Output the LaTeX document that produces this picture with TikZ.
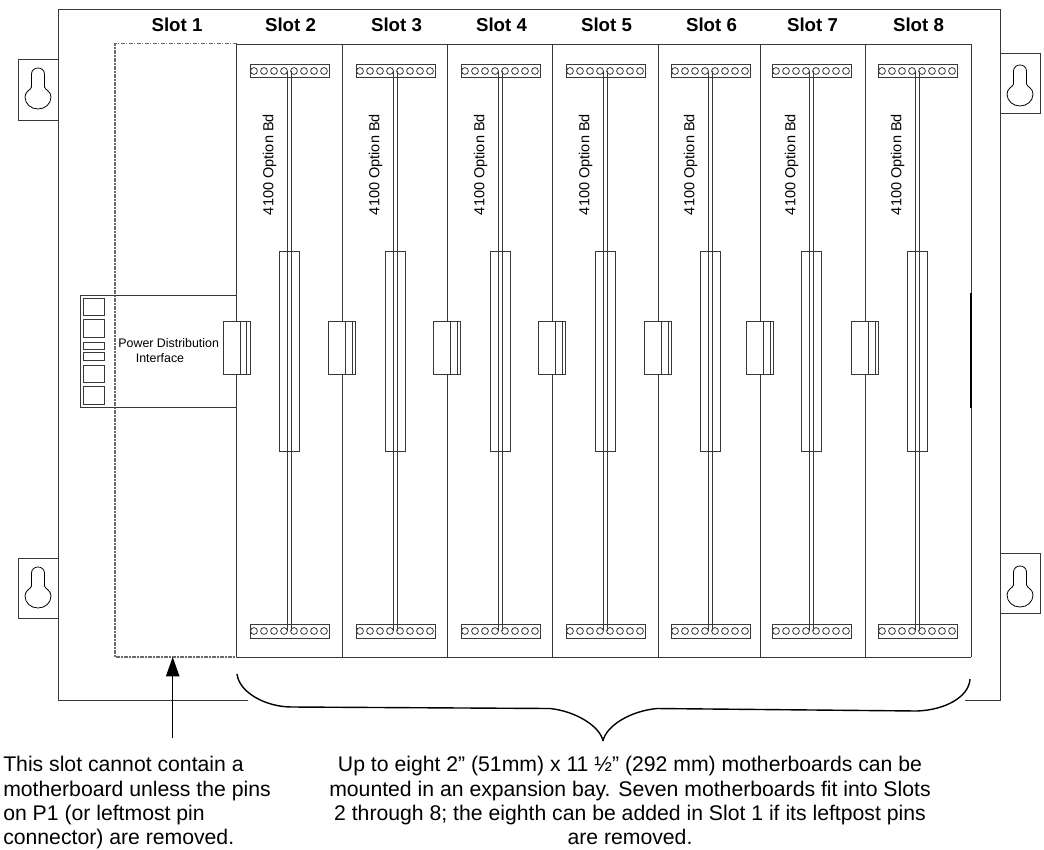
\documentclass[tikz,border=0pt]{standalone}
\usepackage{fontspec}
\setmainfont{Liberation Sans}
\usetikzlibrary{arrows.meta}
\definecolor{ln}{gray}{0.22}
\tikzset{
 ln/.style={draw=ln,line width=0.72pt},
 thin box/.style={ln,fill=white},
 slotlabel/.style={inner sep=0pt,anchor=center,font=\fontsize{14}{16}\selectfont\bfseries},
 optlabel/.style={inner sep=0pt,rotate=90,anchor=center,font=\fontsize{10.9}{13}\selectfont},
 pdi/.style={inner sep=0pt,anchor=center,font=\fontsize{9.3}{11}\selectfont},
 note/.style={inner sep=0pt,font=\fontsize{15.9}{18.3}\selectfont,align=left},
 notec/.style={inner sep=0pt,font=\fontsize{15.9}{18.3}\selectfont,align=center},
 curlyline/.style={draw=black,line width=1.05pt},
}
\newcommand{\keyhole}[1]{%
 \draw[draw=black,line width=0.6pt,shift={(#1)}] (-6.5,19) -- (-6.5,6) .. controls (-6.5,2) and (-3,0) .. (0,0) .. controls (3,0) and (6.5,2) .. (6.5,6) -- (6.5,19) .. controls (7,22) and (13,23) .. (13,29) .. controls (13,36) and (7,41) .. (0,41) .. controls (-7,41) and (-13,36) .. (-13,29) .. controls (-13,23) and (-7,22) .. (-6.5,19) -- cycle;}
\begin{document}
\begin{tikzpicture}[x=0.75pt,y=-0.75pt]
\useasboundingbox (0,0) rectangle (1044,849);
% outer chassis
\draw[ln] (248,700) -- (58,700) -- (58,9) -- (1000,9) -- (1000,700) -- (965,700);
% key brackets
\draw[thin box] (18,59) rectangle (58,120);
\draw[thin box] (18,558) rectangle (58,618);
\draw[thin box] (1000,53) rectangle (1040,113);
\draw[thin box] (1000,553) rectangle (1040,613);
\keyhole{38,68}
\keyhole{38,567}
\keyhole{1020,65}
\keyhole{1020,566}
% slot 1 outline
\draw[draw=ln!75,line width=0.8pt,dash pattern=on 3pt off 1pt on 1pt off 1pt] (236.5,43.5) -- (115,43.5) -- (115,657) -- (236.5,657);
% slots
\draw[ln] (236.5,44) -- (971,44) (236.5,657) -- (971,657);
\foreach \d in {236.5,342,447,552,658,760,865,971}
  \draw[ln] (\d,44) -- (\d,657);
\draw[draw=black,line width=0.8pt] (971,293) -- (971,408);
\foreach \d/\s/\n in {236.5/250/2,342/356/3,447/461/4,552/566/5,658/671/6,760/772/7,865/878/8}{
  \pgfmathsetmacro{\b}{\s+39.5}
  \draw[thin box] (\b-10,251) rectangle (\b+10,451);
  \draw[ln] (\s,64) rectangle (\s+79,77.5);
  \draw[ln] (\s,624) rectangle (\s+79,638);
  \foreach \i in {0,...,7}{
    \draw[draw=ln,line width=0.6pt] (\s+4+10*\i,71) circle[radius=3.4];
    \draw[draw=ln,line width=0.6pt] (\s+4+10*\i,631) circle[radius=3.4];
  }
  \draw[ln] (\b-2.1,71) -- (\b-2.1,631);
  \draw[ln] (\b+2.1,71) -- (\b+2.1,631);
  \node[optlabel] (opt\n) at (\s+19.5,164.5) {4100 Option Bd};
  \node[slotlabel] (slot\n) at (\b+1,25) {Slot \n};
}
\node[slotlabel] (slot1) at (177,25) {Slot 1};
% power distribution interface
\draw[ln] (236.5,295) -- (80,295) -- (80,407) -- (236.5,407);
\foreach \ya/\yb in {298/315,319/337,342/349.5,352.7/360,365/382.5,386/404}
  \draw[ln] (83,\ya) rectangle (104.5,\yb);
\node[pdi] (pdione) at (168.7,343) {Power Distribution};
\node[pdi] (pditwo) at (160,358) {Interface};
% plug connectors
\foreach \d in {236.5,342,447,552,658,760,865}{
  \draw[thin box] (\d-13.5,321) rectangle (\d+13.5,374);
  \draw[ln] (\d+3.5,321) -- (\d+3.5,374);
  \draw[ln] (\d+10,321) -- (\d+10,374);
}
% arrow
\coordinate (tip) at (172.7,657);
\coordinate (tail) at (172.7,738);
\draw[draw=black,line width=1pt,-{Triangle[length=14.5pt,width=10pt,fill=black]}] (tail) -- (tip);
% brace
\coordinate (bl) at (237,674);
\coordinate (bm) at (603,741);
\coordinate (br) at (970,679);
\draw[curlyline] (bl) .. controls (239,692) and (265,707) .. (292,707) -- (550,708.5) .. controls (575,711) and (600,726) .. (bm);
\draw[curlyline] (bm) .. controls (606,726) and (630,711) .. (657,708.5) -- (917,711) .. controls (945,710) and (969,697) .. (br);
% notes
\node[note,anchor=north west] (noteleft) at (3,756) {This slot cannot contain a\\motherboard unless the pins\\on P1 (or leftmost pin\\connector) are removed.};
\node[notec,anchor=north] (noteright) at (630,756) {Up to eight 2” (51mm) x 11 ½” (292 mm) motherboards can be\\mounted in an expansion bay. Seven motherboards fit into Slots\\2 through 8; the eighth can be added in Slot 1 if its leftpost pins\\are removed.};
\end{tikzpicture}
\end{document}
